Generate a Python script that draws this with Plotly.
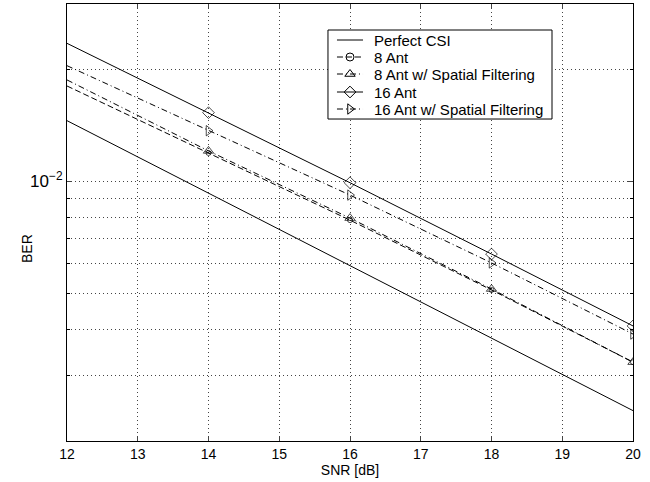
import plotly.graph_objects as go

snr = [12, 14, 16, 18, 20]
perfect_csi = [0.01456, 0.00929, 0.00593, 0.00378, 0.002414]
ant8 = [0.01805, 0.01192, 0.00786, 0.00510, 0.00326]
ant8_sf = [0.01874, 0.01207, 0.00796, 0.00513, 0.00326]
ant16 = [0.02351, 0.01530, 0.00991, 0.00637, 0.00408]
ant16_sf = [0.02047, 0.01368, 0.00918, 0.00603, 0.00388]

series_names = ["Perfect CSI", "8 Ant", "8 Ant w/ Spatial Filtering", "16 Ant",
                "16 Ant w/ Spatial Filtering"]

x_ticks = [12, 13, 14, 15, 16, 17, 18, 19, 20]
y_major = [0.01]
y_major_text = ["10<sup>\u22122</sup>"]
y_minor = [0.002, 0.003, 0.004, 0.005, 0.006, 0.007, 0.008, 0.009, 0.02, 0.03]

FONT = "Liberation Sans, Arial, Helvetica, sans-serif"
DASH = "6px,3px"
DASHDOT = "6px,3px,1px,3px"
styles = [
    dict(dash="solid", symbol=None, msize=0),
    dict(dash=DASH, symbol="circle-open", msize=5),
    dict(dash=DASHDOT, symbol="triangle-up-open", msize=9),
    dict(dash="solid", symbol="diamond-open", msize=9),
    dict(dash=DASHDOT, symbol="triangle-right-open", msize=9),
]
data = [perfect_csi, ant8, ant8_sf, ant16, ant16_sf]

fig = go.Figure()
for name, ys, st in zip(series_names, data, styles):
    if st["symbol"] is None:
        fig.add_trace(go.Scatter(x=snr, y=ys, mode="lines", name=name, showlegend=False,
                                 line=dict(color="black", width=1, dash=st["dash"])))
    else:
        fig.add_trace(go.Scatter(x=snr, y=ys, mode="lines+markers", name=name, showlegend=False,
                                 line=dict(color="black", width=1, dash=st["dash"]),
                                 marker=dict(symbol=st["symbol"],
                                             size=[0] + [st["msize"]] * (len(snr) - 1),
                                             color="black", line=dict(width=1, color="black"))))

# legend drawn on an overlay axis (0..1 over plot area)
bx0, bx1, by0, by1 = 0.4611, 0.8569, 0.7368, 0.9405
fig.add_trace(go.Scatter(x=[bx0, bx1, bx1, bx0, bx0], y=[by0, by0, by1, by1, by0],
                         xaxis="x2", yaxis="y2", mode="lines", fill="toself",
                         fillcolor="white", line=dict(color="black", width=1),
                         showlegend=False, hoverinfo="skip"))
row_y = [0.9176, 0.8787, 0.8398, 0.7986, 0.7597]
lx0, lx1, lxm, tx = 0.4770, 0.5230, 0.5000, 0.5389
for name, st, ry in zip(series_names, styles, row_y):
    fig.add_trace(go.Scatter(x=[lx0, lx1], y=[ry, ry], xaxis="x2", yaxis="y2", mode="lines",
                             line=dict(color="black", width=1, dash=st["dash"]),
                             showlegend=False, hoverinfo="skip"))
    if st["symbol"] is not None:
        fig.add_trace(go.Scatter(x=[lxm], y=[ry], xaxis="x2", yaxis="y2", mode="markers",
                                 marker=dict(symbol=st["symbol"], size=st["msize"] if st["msize"] > 5 else 8,
                                             color="black", line=dict(width=1, color="black")),
                                 showlegend=False, hoverinfo="skip"))
    fig.add_annotation(x=tx, y=ry, xref="x2", yref="y2", text=name, showarrow=False,
                       xanchor="left", yanchor="middle", font=dict(family=FONT, size=15, color="black"))

fig.add_annotation(x=-0.072, y=0.44, xref="paper", yref="paper", text="BER", showarrow=False,
                   textangle=-90, xanchor="center", yanchor="middle",
                   font=dict(family=FONT, size=14, color="black"))

fig.update_layout(
    width=650, height=482,
    margin=dict(l=67, r=17, t=4, b=41),
    paper_bgcolor="white", plot_bgcolor="white",
    font=dict(family=FONT, size=14, color="black"),
    showlegend=False,
    xaxis2=dict(overlaying="x", range=[0, 1], visible=False, fixedrange=True),
    yaxis2=dict(overlaying="y", range=[0, 1], visible=False, fixedrange=True),
)
fig.layout.xaxis.update(range=[12, 20], tickvals=x_ticks, ticks="inside", ticklen=5,
                        showline=True, linecolor="black", linewidth=1, mirror="ticks",
                        showgrid=True, gridcolor="#444444", griddash="1px,3px", gridwidth=1,
                        zeroline=False, automargin=False,
                        title=dict(text="SNR [dB]", standoff=2, font=dict(size=14)),
                        tickfont=dict(size=14))
fig.layout.yaxis.update(type="log", range=[-2.69897, -1.52288],
                        tickmode="array", tickvals=y_major, ticktext=y_major_text,
                        ticks="inside", ticklen=5,
                        showline=True, linecolor="black", linewidth=1, mirror="ticks",
                        showgrid=True, gridcolor="#444444", griddash="1px,3px", gridwidth=1,
                        minor=dict(tickmode="array", tickvals=y_minor, ticks="inside", ticklen=3,
                                   tickcolor="black", showgrid=True, gridcolor="#444444",
                                   griddash="1px,3px", gridwidth=1),
                        zeroline=False, automargin=False,
                        tickfont=dict(size=17))

fig.write_html("out.html", config={"displayModeBar": False},
               post_script="document.body.style.margin='0';document.body.style.padding='0';")
